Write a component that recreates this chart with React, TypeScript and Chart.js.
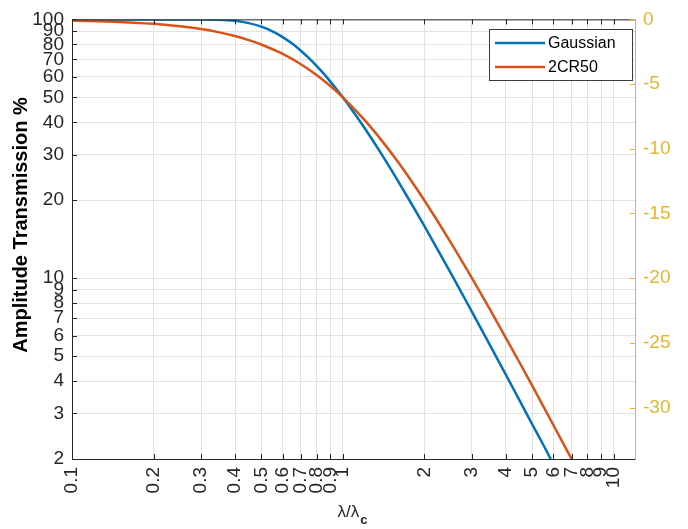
import React, { useEffect, useRef } from "react";
import { Chart, registerables } from "chart.js";

Chart.register(...registerables);

// ---- data ----
const gaussX = [0.1, 0.2, 0.3, 0.35, 0.4, 0.45, 0.5, 0.55, 0.6, 0.65, 0.7, 0.75, 0.8, 0.85, 0.9, 0.95, 1, 1.1, 1.2, 1.4, 1.6, 1.8, 2, 2.5, 3, 3.5, 4, 4.5, 5, 5.5, 5.86];
const gaussY = [100, 100, 99.95, 99.65, 98.69, 96.73, 93.75, 89.88, 85.43, 80.61, 75.67, 70.82, 66.13, 61.68, 57.5, 53.61, 50, 43.6, 38.2, 29.82, 23.72, 19.26, 15.91, 10.5, 7.41, 5.5, 4.24, 3.36, 2.73, 2.27, 2.0];

const crX = [0.1, 0.15, 0.2, 0.25, 0.3, 0.35, 0.4, 0.45, 0.5, 0.6, 0.7, 0.8, 0.9, 1, 1.2, 1.4, 1.6, 1.8, 2, 2.5, 3, 3.5, 4, 4.5, 5, 5.5, 6, 6.5, 7];
const crY = [99.01, 97.8, 96.15, 94.12, 91.74, 89.09, 86.21, 83.16, 80.0, 73.53, 67.11, 60.98, 55.25, 50, 40.98, 33.78, 28.09, 23.58, 20.0, 13.79, 10.0, 7.55, 5.88, 4.71, 3.85, 3.2, 2.7, 2.31, 2.0];

const seriesNames = ["Gaussian", "2CR50"];
const xTicks = [0.1, 0.2, 0.3, 0.4, 0.5, 0.6, 0.7, 0.8, 0.9, 1, 2, 3, 4, 5, 6, 7, 8, 9, 10];
const yTicks = [2, 3, 4, 5, 6, 7, 8, 9, 10, 20, 30, 40, 50, 60, 70, 80, 90, 100];
const dbTicks = [0, -5, -10, -15, -20, -25, -30];

const xMin = 0.1;
const xMax = 12;
const yMin = 2;
const yMax = 100;
const dbMin = -33.98;
const dbMax = 0;

const BLUE = "#0072BD";
const ORANGE = "#D95319";
const GOLD = "#E6B52E";
const AXIS = "#262626";
const GRID = "#e2e2e2";
const TICKFONT = "'Liberation Sans Narrow', 'Arial Narrow', 'Liberation Sans', Arial, sans-serif";
const FONT = "'Liberation Sans', Arial, sans-serif";

const decorPlugin = {
  id: "decor",
  afterDraw(chart: any) {
    const { ctx, chartArea: a, scales } = chart;
    ctx.save();
    // top border
    ctx.strokeStyle = AXIS;
    ctx.lineWidth = 1;
    ctx.beginPath();
    ctx.moveTo(a.left, a.top + 0.5);
    ctx.lineTo(a.right, a.top + 0.5);
    ctx.stroke();
    // inward ticks
    const tl = 5;
    ctx.beginPath();
    for (const v of xTicks) {
      const px = Math.round(scales.x.getPixelForValue(v)) + 0.5;
      ctx.moveTo(px, a.bottom);
      ctx.lineTo(px, a.bottom - tl);
      ctx.moveTo(px, a.top);
      ctx.lineTo(px, a.top + tl);
    }
    for (const v of yTicks) {
      const py = Math.round(scales.y.getPixelForValue(v)) + 0.5;
      ctx.moveTo(a.left, py);
      ctx.lineTo(a.left + tl, py);
    }
    ctx.stroke();
    ctx.strokeStyle = GOLD;
    ctx.beginPath();
    for (const v of dbTicks) {
      const py = Math.round(scales.y2.getPixelForValue(v)) + 0.5;
      ctx.moveTo(a.right, py);
      ctx.lineTo(a.right - tl, py);
    }
    ctx.stroke();

    // legend
    const lx = 489, ly = 29, lw = 143, lh = 51;
    ctx.fillStyle = "#ffffff";
    ctx.fillRect(lx, ly, lw, lh);
    ctx.strokeStyle = "#3a3a3a";
    ctx.lineWidth = 1;
    ctx.strokeRect(lx + 0.5, ly + 0.5, lw, lh);
    const colors = [BLUE, ORANGE];
    seriesNames.forEach((name, i) => {
      const yy = ly + 14 + i * 24;
      ctx.strokeStyle = colors[i];
      ctx.lineWidth = 2.5;
      ctx.beginPath();
      ctx.moveTo(lx + 6, yy);
      ctx.lineTo(lx + 56, yy);
      ctx.stroke();
      ctx.fillStyle = "#000000";
      ctx.font = "16px " + FONT;
      ctx.textBaseline = "middle";
      ctx.textAlign = "left";
      ctx.fillText(name, lx + 59, yy + 1);
    });

    // y title
    ctx.save();
    ctx.translate(21, 225);
    ctx.rotate(-Math.PI / 2);
    ctx.fillStyle = "#000000";
    ctx.font = "bold 20px " + FONT;
    ctx.textAlign = "center";
    ctx.textBaseline = "middle";
    ctx.fillText("Amplitude Transmission %", 0, 0);
    ctx.restore();

    // x title λ/λc
    ctx.fillStyle = "#262626";
    ctx.font = "17px " + FONT;
    ctx.textBaseline = "alphabetic";
    ctx.textAlign = "left";
    const main = "λ/λ";
    const w = ctx.measureText(main).width;
    ctx.font = "bold 13px " + FONT;
    const ws = ctx.measureText("c").width;
    const sx = 352 - (w + ws) / 2;
    ctx.font = "17px " + FONT;
    ctx.fillText(main, sx, 517);
    ctx.font = "bold 13px " + FONT;
    ctx.fillText("c", sx + w + 1, 524);
    ctx.restore();
  },
};

export default function App() {
  const ref = useRef<HTMLCanvasElement | null>(null);
  useEffect(() => {
    document.body.style.margin = "0";
    const canvas = ref.current;
    if (!canvas) return;
    const chart = new Chart(canvas, {
      type: "line",
      data: {
        datasets: [
          {
            label: seriesNames[0],
            data: gaussX.map((x, i) => ({ x, y: gaussY[i] })),
            borderColor: BLUE,
            backgroundColor: BLUE,
            borderWidth: 2.5,
            pointRadius: 0,
            cubicInterpolationMode: "monotone",
            yAxisID: "y",
            order: 1,
          },
          {
            label: seriesNames[1],
            data: crX.map((x, i) => ({ x, y: crY[i] })),
            borderColor: ORANGE,
            backgroundColor: ORANGE,
            borderWidth: 2.5,
            pointRadius: 0,
            cubicInterpolationMode: "monotone",
            yAxisID: "y",
            order: 0,
          },
        ],
      },
      options: {
        animation: false,
        responsive: false,
        devicePixelRatio: 1,
        layout: { padding: { top: 14, left: 0, right: 0, bottom: 0 } },
        plugins: { legend: { display: false }, tooltip: { enabled: false } },
        scales: {
          x: {
            type: "logarithmic",
            min: xMin,
            max: xMax,
            afterBuildTicks: (s: any) => {
              s.ticks = xTicks.map((v) => ({ value: v }));
            },
            afterFit: (s: any) => {
              s.height = 70;
            },
            ticks: {
              autoSkip: false,
              minRotation: 90,
              maxRotation: 90,
              padding: 8,
              color: "#262626",
              font: { family: TICKFONT, size: 19 },
              callback: (v: any) => String(v),
            },
            grid: { color: GRID, drawTicks: false, tickLength: 0 },
            border: { color: AXIS, width: 1 },
          },
          y: {
            type: "logarithmic",
            position: "left",
            min: yMin,
            max: yMax,
            afterBuildTicks: (s: any) => {
              s.ticks = yTicks.map((v) => ({ value: v }));
            },
            afterFit: (s: any) => {
              s.width = 72;
            },
            ticks: {
              autoSkip: false,
              padding: 8,
              color: "#262626",
              font: { family: TICKFONT, size: 19 },
              callback: (v: any) => String(v),
            },
            grid: { color: GRID, drawTicks: false, tickLength: 0 },
            border: { color: AXIS, width: 1 },
          },
          y2: {
            type: "linear",
            position: "right",
            min: dbMin,
            max: dbMax,
            afterBuildTicks: (s: any) => {
              s.ticks = dbTicks.map((v) => ({ value: v }));
            },
            afterFit: (s: any) => {
              s.width = 53;
            },
            ticks: {
              autoSkip: false,
              padding: 8,
              color: GOLD,
              font: { family: TICKFONT, size: 19 },
              callback: (v: any) => String(v),
            },
            grid: { drawOnChartArea: false, drawTicks: false, tickLength: 0 },
            border: { color: GOLD, width: 1 },
          },
        },
      },
      plugins: [decorPlugin],
    });
    return () => chart.destroy();
  }, []);
  return (
    <div style={{ width: 688, height: 529, background: "#ffffff" }}>
      <canvas ref={ref} width={688} height={529} style={{ display: "block" }} />
    </div>
  );
}
